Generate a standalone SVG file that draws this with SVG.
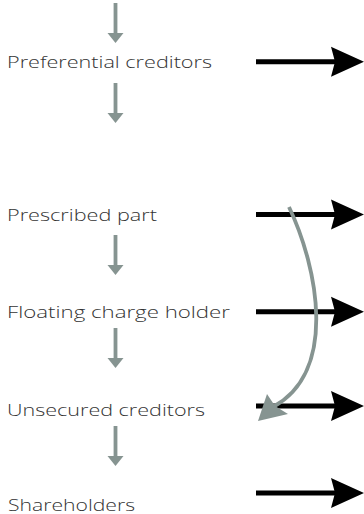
<svg xmlns="http://www.w3.org/2000/svg" width="364" height="514" viewBox="0 0 364 514">
<style>
.lbl{font-family:"Open Sans","Liberation Sans",sans-serif;font-size:17px;font-weight:300;fill:#333333}
.gs{stroke:#869491;stroke-width:3.8;fill:none}
.gh{fill:#869491}
.bs{stroke:#000000;stroke-width:5;fill:none}
.bh{fill:#000000}
</style>
<defs>
<g id="garrow"><line class="gs" x1="0" y1="0" x2="0" y2="31"/><polygon class="gh" points="-8,30 8,30 0,40"/></g>
<g id="barrow"><line class="bs" x1="0" y1="0" x2="80" y2="0"/><polygon class="bh" points="75,-15 108,0 75,15 79,0"/></g>
</defs>
<g id="n-preferential"><text class="lbl" x="7" y="67.5" textLength="205" lengthAdjust="spacingAndGlyphs">Preferential creditors</text></g>
<g id="n-prescribed"><text class="lbl" x="7" y="221" textLength="150" lengthAdjust="spacingAndGlyphs">Prescribed part</text></g>
<g id="n-floating"><text class="lbl" x="7" y="318.3" textLength="223" lengthAdjust="spacingAndGlyphs">Floating charge holder</text></g>
<g id="n-unsecured"><text class="lbl" x="7" y="415.5" textLength="198" lengthAdjust="spacingAndGlyphs">Unsecured creditors</text></g>
<g id="n-shareholders"><text class="lbl" x="8" y="510.5" textLength="127" lengthAdjust="spacingAndGlyphs">Shareholders</text></g>
<g id="connectors">
<use href="#garrow" x="115.5" y="3"/>
<use href="#garrow" x="115.5" y="83"/>
<use href="#garrow" x="115.5" y="235"/>
<use href="#garrow" x="115.5" y="328"/>
<use href="#garrow" x="115.5" y="426"/>
<use href="#barrow" x="256" y="61.7"/>
<use href="#barrow" x="256" y="214.5"/>
<use href="#barrow" x="256" y="311.8"/>
<use href="#barrow" x="256" y="406"/>
<use href="#barrow" x="256" y="493"/>
<path class="gs" d="M289,207 C318,268 338,372 273,407"/>
<polygon class="gh" points="258,421 267,394 275,406 288,414"/>
</g>
</svg>
